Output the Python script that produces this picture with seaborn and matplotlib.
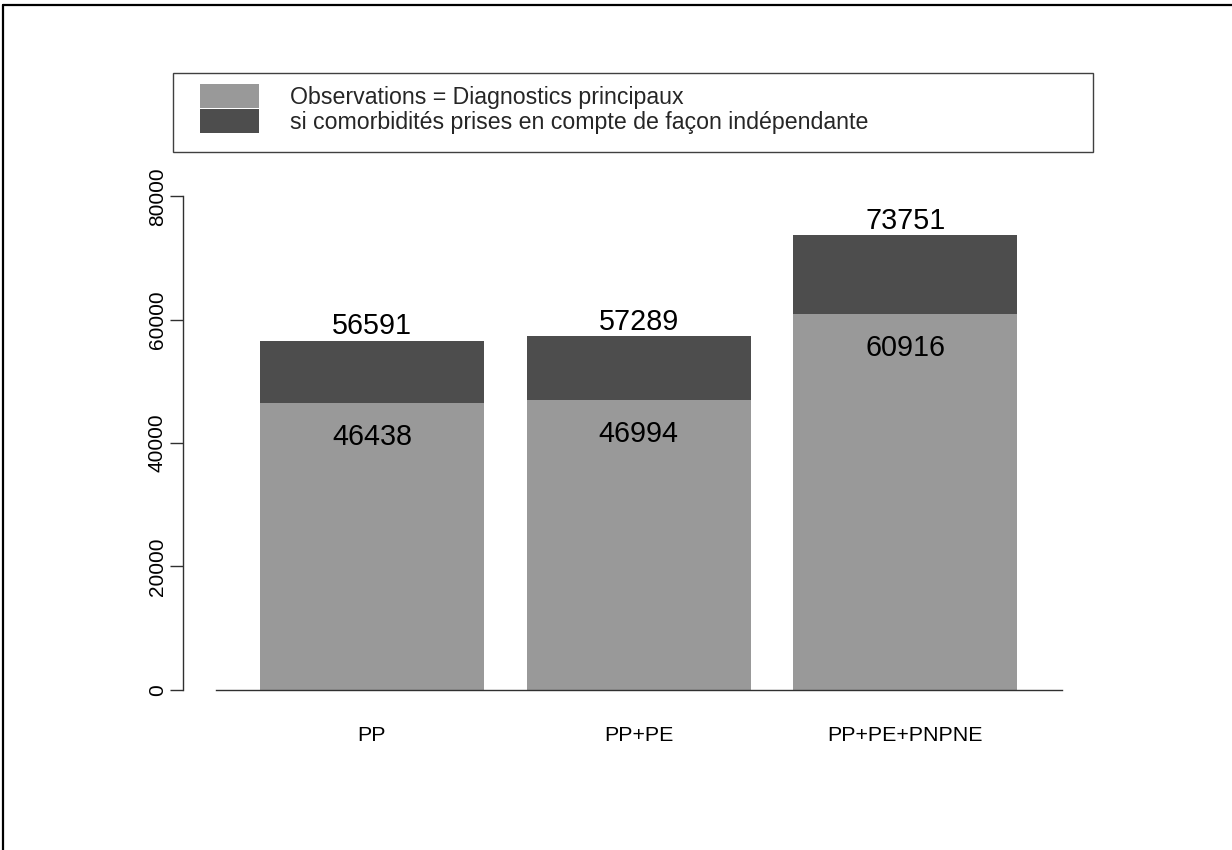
import matplotlib
matplotlib.use("Agg")
import matplotlib.pyplot as plt
from matplotlib.patches import Patch, Rectangle
from matplotlib.lines import Line2D
import seaborn as sns

# Data
categories = ["PP", "PP+PE", "PP+PE+PNPNE"]
base_values = [46438, 46994, 60916]
total_values = [56591, 57289, 73751]
legend_labels = ["Observations = Diagnostics principaux",
                 "si comorbidités prises en compte de façon indépendante"]
y_ticks = [0, 20000, 40000, 60000, 80000]

light = "#999999"
dark = "#4d4d4d"

sns.set_theme(style="white")
plt.rcParams["font.family"] = ["Liberation Sans", "DejaVu Sans"]

fig = plt.figure(figsize=(12.32, 8.5), dpi=100)
ax = fig.add_axes([0.17532, 0.18859, 0.68669, 0.58047])

# total bar first, base bar drawn over it -> stacked look
sns.barplot(x=categories, y=total_values, color=dark, saturation=1,
            width=0.8397, linewidth=0, edgecolor="none", ax=ax)
sns.barplot(x=categories, y=base_values, color=light, saturation=1,
            width=0.8397, linewidth=0, edgecolor="none", ax=ax)

ax.set_xlim(-0.5848, 2.5867)
ax.set_ylim(0, 80000)
ax.set_yticks(y_ticks)
ax.set_yticklabels([str(t) for t in y_ticks])

for side in ["top", "right"]:
    ax.spines[side].set_visible(False)
ax.spines["left"].set_position(("outward", 23.8))
ax.spines["left"].set_bounds(0, 80000)
ax.spines["left"].set_color("#303030")
ax.spines["left"].set_linewidth(1)
ax.spines["bottom"].set_color("#303030")
ax.spines["bottom"].set_linewidth(1)

ax.tick_params(axis="y", left=True, length=9.1, width=1, color="#303030",
               pad=2.5, labelsize=15, labelcolor="black", labelrotation=90)
ax.tick_params(axis="x", bottom=False, length=0, pad=26, labelsize=15.4,
               labelcolor="black")
for lab in ax.get_yticklabels():
    lab.set_verticalalignment("center")
ax.set_xlabel("")
ax.set_ylabel("")

# value labels
for i, v in enumerate(total_values):
    ax.annotate(str(v), (i, v), xytext=(0, 10.3), textcoords="offset points",
                ha="center", va="center", fontsize=20.7, color="black",
                annotation_clip=False)
for i, v in enumerate(base_values):
    ax.annotate(str(v), (i, v), xytext=(0, -24.5), textcoords="offset points",
                ha="center", va="center", fontsize=20.7, color="black",
                annotation_clip=False)

# legend with its own frame
handles = [Patch(facecolor=light, edgecolor="none"),
           Patch(facecolor=dark, edgecolor="none")]
fig.legend(handles, legend_labels, loc="upper left",
           bbox_to_anchor=(0.1623, 0.9012), frameon=False, fontsize=16.7,
           handlelength=2.54, handleheight=1.22, labelspacing=0,
           handletextpad=1.34, borderpad=0, borderaxespad=0)
fig.patches.append(Rectangle((0.1404, 0.8212), 0.7468, 0.0933,
                             transform=fig.transFigure, fill=False,
                             edgecolor="#404040", linewidth=1))

# outer border (top and left only)
fig.lines.append(Line2D([0.0024, 1], [0.9941, 0.9941], transform=fig.transFigure,
                        color="black", linewidth=1.6))
fig.lines.append(Line2D([0.0024, 0.0024], [0, 0.9941], transform=fig.transFigure,
                        color="black", linewidth=1.6))

fig.savefig("out.png", dpi=100)
